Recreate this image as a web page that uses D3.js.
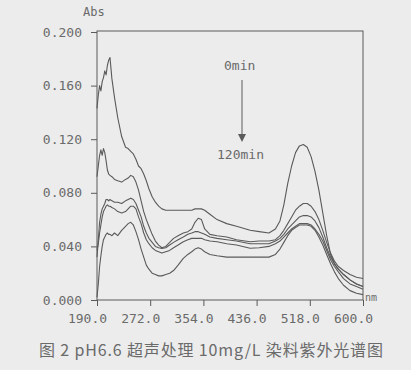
<!DOCTYPE html>
<html><head><meta charset="utf-8">
<script src="https://cdn.jsdelivr.net/npm/d3@7"></script>
<style>html,body{margin:0;padding:0;background:#ececec;}svg{display:block;}</style>
</head><body>
<svg id="c" width="411" height="370"></svg>
<script>
const wavelengths = [190,192,194,196,198,200,202,204,206,208,210,213,217,222,228,234,238,242,246,250,254,258,262,266,270,275,280,285,290,296,302,308,315,323,330,336,341,346,351,356,364,375,390,405,426,440,455,465,472,478,484,490,496,502,508,514,520,526,532,538,544,550,556,562,570,580,590,600];
const abs0min = [0.143,0.153,0.160,0.156,0.163,0.166,0.171,0.168,0.175,0.179,0.181,0.165,0.151,0.136,0.122,0.114,0.113,0.111,0.109,0.105,0.100,0.098,0.094,0.089,0.083,0.077,0.073,0.070,0.068,0.067,0.067,0.067,0.067,0.067,0.067,0.067,0.068,0.068,0.068,0.067,0.064,0.060,0.057,0.055,0.052,0.051,0.050,0.053,0.059,0.071,0.087,0.100,0.110,0.115,0.116,0.114,0.107,0.096,0.082,0.065,0.048,0.034,0.027,0.023,0.019,0.015,0.012,0.010];
const absB = [0.092,0.100,0.108,0.112,0.108,0.113,0.110,0.104,0.097,0.094,0.093,0.092,0.090,0.089,0.088,0.090,0.091,0.093,0.092,0.088,0.082,0.074,0.066,0.060,0.055,0.049,0.044,0.041,0.039,0.040,0.043,0.046,0.048,0.050,0.051,0.053,0.058,0.061,0.060,0.053,0.049,0.048,0.047,0.045,0.0435,0.044,0.044,0.045,0.048,0.052,0.057,0.062,0.067,0.070,0.072,0.072,0.070,0.066,0.060,0.052,0.043,0.035,0.029,0.025,0.022,0.019,0.017,0.016];
const absC = [0.032,0.045,0.058,0.064,0.068,0.070,0.072,0.075,0.075,0.074,0.075,0.074,0.073,0.073,0.072,0.074,0.075,0.076,0.075,0.072,0.067,0.062,0.055,0.050,0.046,0.043,0.040,0.039,0.0385,0.039,0.041,0.043,0.045,0.047,0.049,0.050,0.051,0.051,0.050,0.049,0.047,0.046,0.045,0.044,0.042,0.042,0.042,0.044,0.046,0.049,0.053,0.056,0.059,0.062,0.063,0.063,0.062,0.059,0.054,0.047,0.039,0.032,0.027,0.023,0.019,0.015,0.012,0.010];
const absD = [0.037,0.042,0.050,0.056,0.062,0.066,0.068,0.070,0.071,0.070,0.070,0.069,0.068,0.066,0.065,0.066,0.068,0.070,0.070,0.068,0.062,0.057,0.050,0.045,0.042,0.039,0.037,0.036,0.035,0.036,0.037,0.039,0.041,0.0435,0.045,0.046,0.046,0.046,0.046,0.045,0.044,0.0435,0.042,0.041,0.0386,0.039,0.040,0.042,0.044,0.047,0.050,0.053,0.055,0.057,0.057,0.057,0.056,0.053,0.049,0.044,0.037,0.030,0.025,0.021,0.016,0.012,0.010,0.008];
const abs120min = [0.002,0.012,0.025,0.033,0.040,0.045,0.047,0.049,0.050,0.049,0.049,0.048,0.050,0.048,0.052,0.055,0.057,0.058,0.056,0.051,0.045,0.038,0.032,0.026,0.023,0.020,0.019,0.018,0.018,0.019,0.020,0.022,0.026,0.031,0.034,0.036,0.038,0.039,0.038,0.036,0.034,0.033,0.032,0.032,0.032,0.032,0.032,0.034,0.038,0.043,0.048,0.052,0.054,0.056,0.056,0.056,0.055,0.052,0.047,0.041,0.034,0.027,0.021,0.016,0.011,0.007,0.005,0.004];
const xTicks = [190,272,354,436,518,600];
const xTickLabels = ["190.0","272.0","354.0","436.0","518.0","600.0"];
const yTicks = [0,0.04,0.08,0.12,0.16,0.2];
const yTickLabels = ["0.000","0.040","0.080","0.120","0.160","0.200"];
const series = [abs0min, absB, absC, absD, abs120min];

const svg = d3.select("#c");
const x = d3.scaleLinear().domain([190,600]).range([97,363]);
const y = d3.scaleLinear().domain([0,0.2]).range([300,32]);
const ink = "#5a5a5a", txt = "#6a6a6a";
const mono = "'DejaVu Sans Mono', monospace";

svg.append("rect").attr("width",411).attr("height",370).attr("fill","#ececec");

// frame
svg.append("rect").attr("x",x(190)).attr("y",31).attr("width",x(600)-x(190)).attr("height",y(0)-31)
  .attr("fill","none").attr("stroke",ink).attr("stroke-width",1);

// y axis
const yAxis = d3.axisLeft(y).tickValues(yTicks).tickSize(6).tickFormat((d,i)=>yTickLabels[i]).tickPadding(9);
const gy = svg.append("g").attr("transform",`translate(${x(190)},0)`).call(yAxis);
gy.select(".domain").remove();
gy.selectAll("line").attr("stroke",ink);
gy.selectAll("text").attr("font-family",mono).attr("font-size",13).attr("fill",txt);

// x axis
const xAxis = d3.axisBottom(x).tickValues(xTicks).tickSize(6).tickFormat((d,i)=>xTickLabels[i]).tickPadding(8);
const gx = svg.append("g").attr("transform",`translate(0,${y(0)})`).call(xAxis);
gx.select(".domain").remove();
gx.selectAll("line").attr("stroke",ink);
gx.selectAll("text").attr("font-family",mono).attr("font-size",13).attr("fill",txt).attr("dx",-10);

// curves
const line = d3.line().x((d,i)=>x(wavelengths[i])).y(d=>y(d));
svg.append("g").selectAll("path").data(series).join("path")
  .attr("d",line).attr("fill","none").attr("stroke",ink).attr("stroke-width",1.1).attr("stroke-linejoin","round");

// labels
svg.append("text").attr("x",83).attr("y",12).attr("dominant-baseline","central")
  .attr("font-family",mono).attr("font-size",12).attr("fill",txt).text("Abs");
svg.append("text").attr("x",365).attr("y",297).attr("dominant-baseline","central")
  .attr("font-family",mono).attr("font-size",10).attr("fill",txt).text("nm");
svg.append("text").attr("x",224).attr("y",65).attr("dominant-baseline","central")
  .attr("font-family",mono).attr("font-size",13).attr("fill",txt).text("0min");
svg.append("text").attr("x",217).attr("y",154).attr("dominant-baseline","central")
  .attr("font-family",mono).attr("font-size",13).attr("fill",txt).text("120min");
svg.append("line").attr("x1",242).attr("x2",242).attr("y1",80).attr("y2",137).attr("stroke",ink).attr("stroke-width",1);
svg.append("path").attr("d","M238,134L246,134L242,142Z").attr("fill",ink);

svg.append("text").attr("x",39).attr("y",349).attr("dominant-baseline","central")
  .attr("font-family","'Noto Sans CJK SC', sans-serif").attr("font-size",16).attr("fill",txt)
  .attr("textLength",344).attr("lengthAdjust","spacing")
  .text("图 2  pH6.6 超声处理 10mg/L 染料紫外光谱图");
</script>
</body></html>
